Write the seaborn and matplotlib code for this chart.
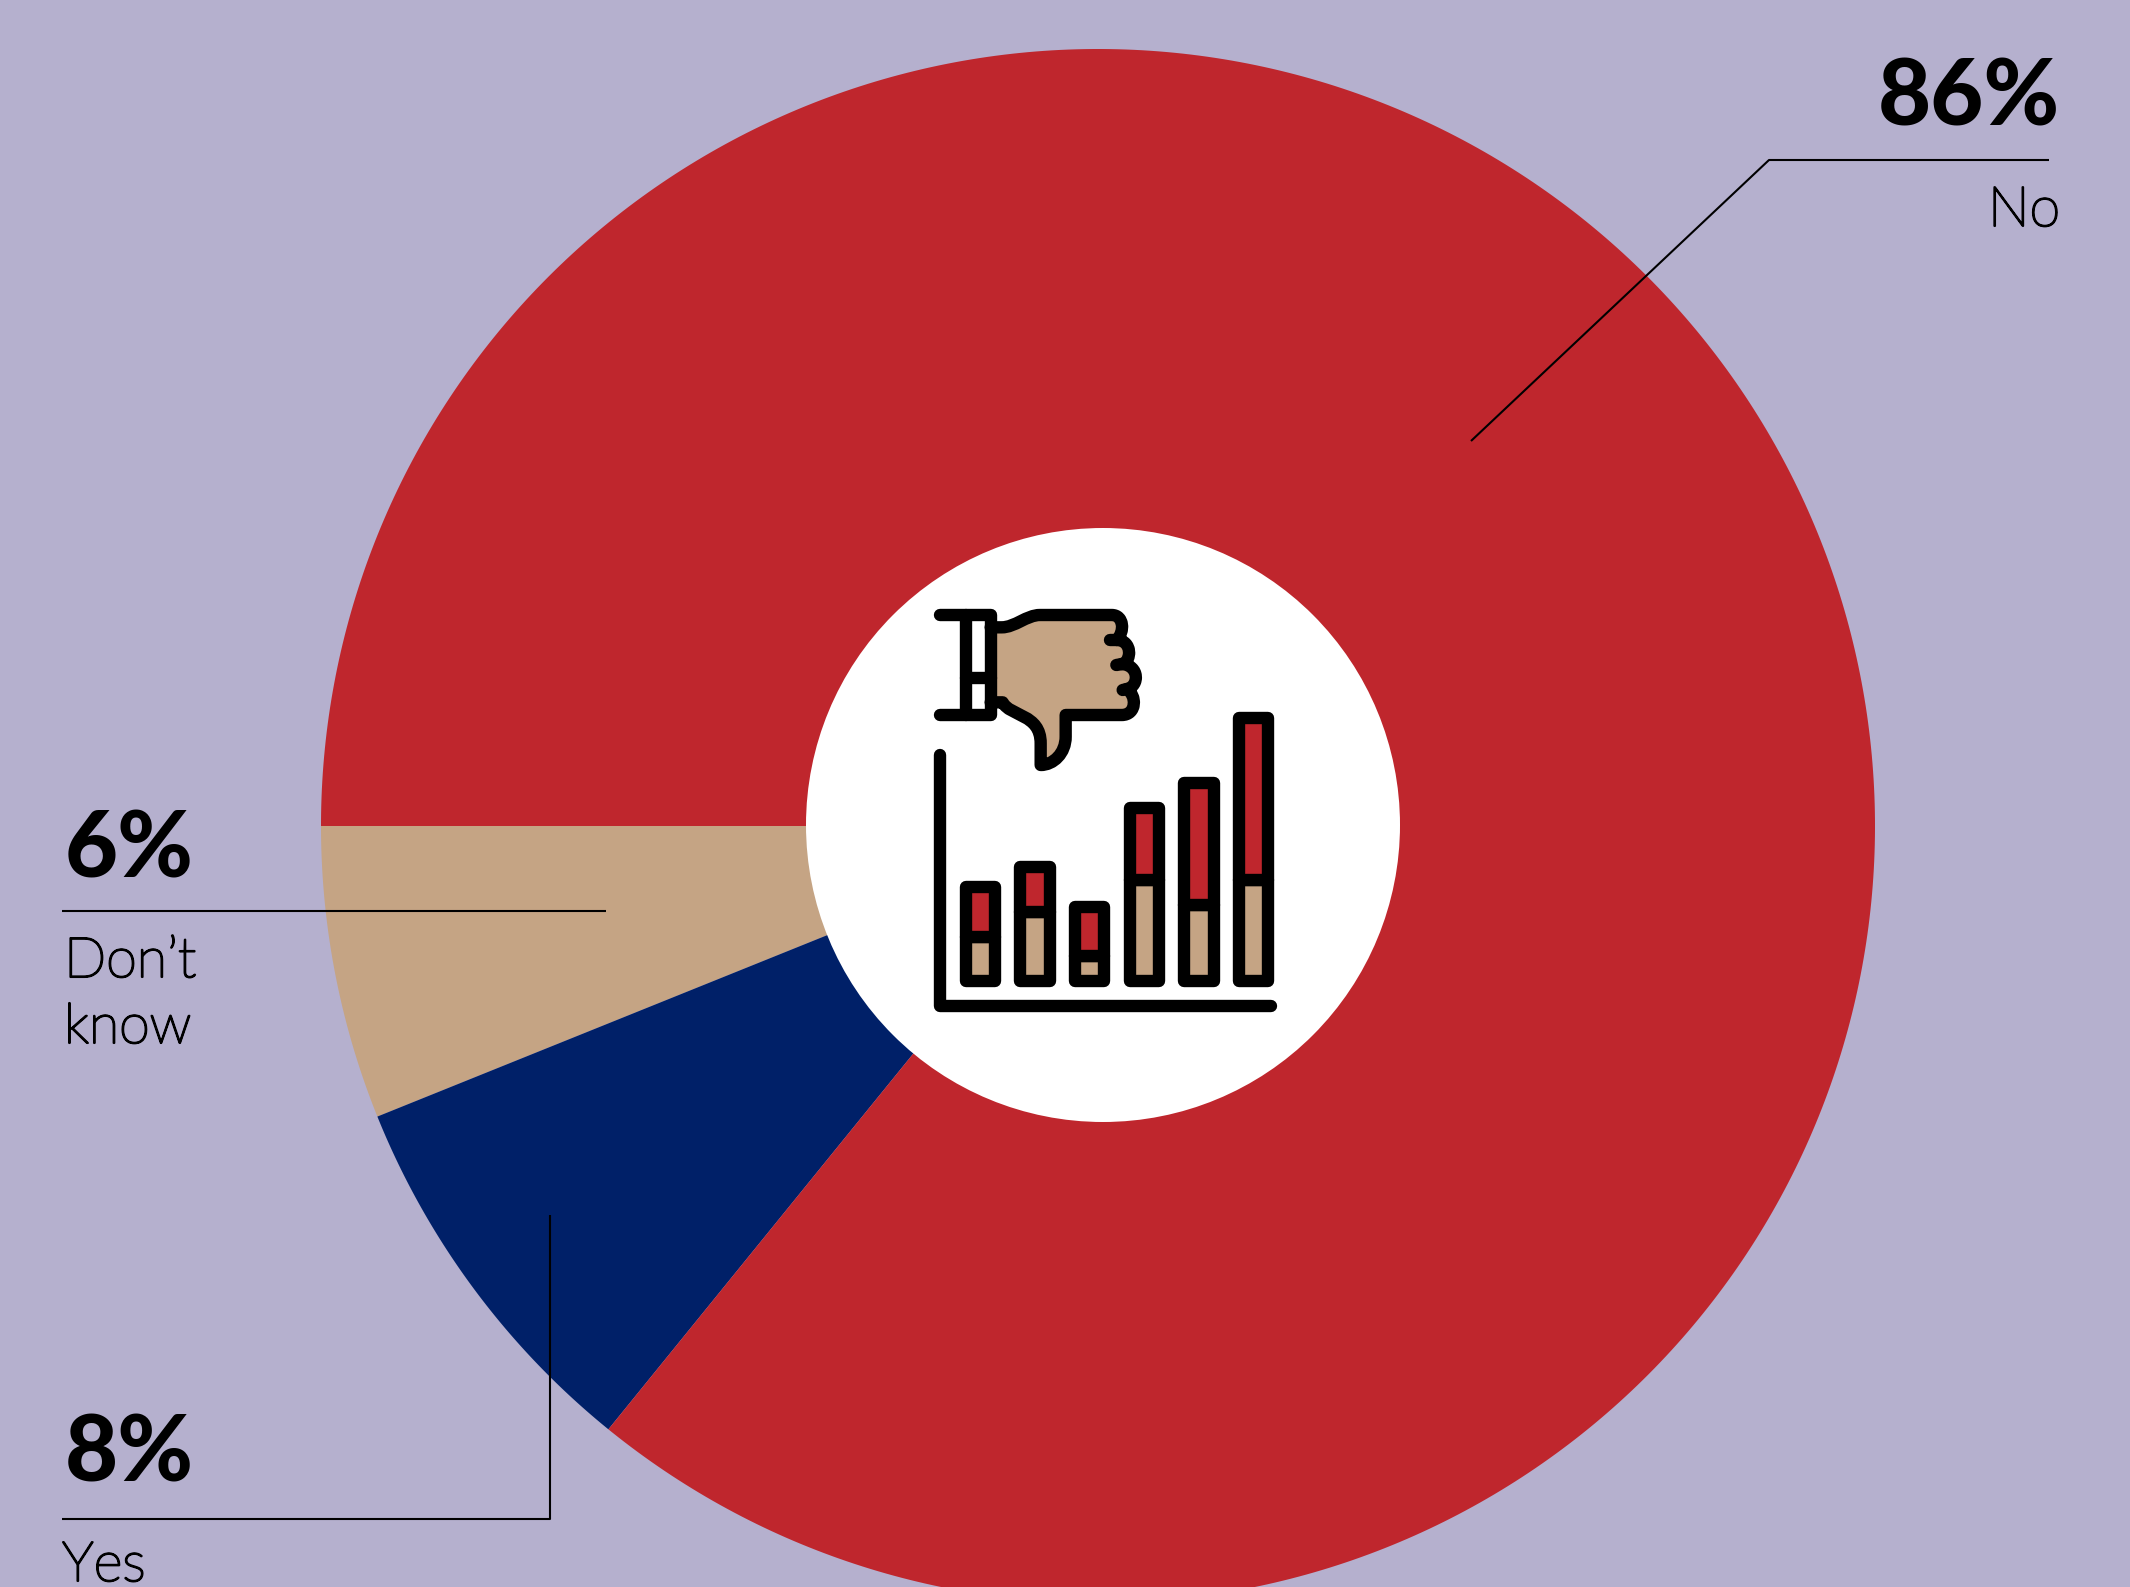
import matplotlib
matplotlib.use('Agg')
import matplotlib.pyplot as plt
from matplotlib.patches import Circle, PathPatch
from matplotlib.path import Path
from matplotlib.transforms import Affine2D
import matplotlib.patheffects as pe
import seaborn as sns

# chart data
labels = ["Don\u2019t\nknow", "Yes", "No"]
pct_labels = ["6%", "8%", "86%"]
# slice sizes as measured on the picture (labels above are the rounded ones)
shares = [6.1, 8.05, 85.85]

# little icon in the middle of the donut: stacked bars
icon_cats = ['a', 'b', 'c', 'd', 'e', 'f']
icon_tan = [132, 207, 75, 301, 226, 301]
icon_red = [150, 133, 145, 216, 367, 487]

bg = '#B5B0CE'
red = '#BF262D'
tan = '#C5A484'
navy = '#002068'

W, H = 2130, 1587
sns.set_theme(style='white')
plt.rcParams['font.family'] = ['Lato', 'DejaVu Sans']

fig = plt.figure(figsize=(W / 100, H / 100), dpi=100, facecolor=bg)
ax = fig.add_axes([0, 0, 1, 1], zorder=1)
ax.set_facecolor(bg)


# everything placed by hand is given in image pixels, y going down
def Y(y):
    return H - y


wedges, _ = ax.pie(shares, colors=[tan, navy, red], startangle=180, counterclock=True,
                   center=(1098, Y(826)), radius=777, wedgeprops=dict(linewidth=0))
# agg flattens such a big arc into visible facets, so flatten it finer first
for w in wedges:
    poly = w.get_path().to_polygons(transform=Affine2D().scale(8), closed_only=True)[0]
    w._path = Path(poly / 8)
ax.set_xlim(0, W)
ax.set_ylim(0, H)
ax.set_aspect('equal')
ax.axis('off')

ax.add_patch(Circle((1103, Y(825)), 297, facecolor='white', edgecolor='none', zorder=3))

# leader lines
line_kw = dict(color='black', lw=1.5, solid_capstyle='butt', zorder=4)
ax.plot([1471, 1769, 2049], [Y(441), Y(160), Y(160)], **line_kw)
ax.plot([62, 606], [Y(911), Y(911)], **line_kw)
ax.plot([62, 550, 550], [Y(1519), Y(1519), Y(1215)], **line_kw)

# labels, the only thin Lato here is hairline so it gets a small outline
big = dict(fontsize=66, fontweight='black', color='black', va='baseline', zorder=5)
small = dict(fontsize=40, fontweight='light', color='black', va='baseline', zorder=5,
             path_effects=[pe.withStroke(linewidth=1.5, foreground='black')])
ax.text(2060, Y(126), pct_labels[2], ha='right', **big)
ax.text(2060, Y(226), labels[2], ha='right', **small)
ax.text(65, Y(878), pct_labels[0], ha='left', **big)
ax.text(64, Y(977), labels[0].split('\n')[0], ha='left', **small)
ax.text(64, Y(1043), labels[0].split('\n')[1], ha='left', **small)
ax.text(65, Y(1482), pct_labels[1], ha='left', **big)
ax.text(62, Y(1581), labels[1], ha='left', **small)


def P(x, y):
    return (900 + x / 3, Y(580 + y / 3))


stroke = 8.9
hand = [
    (Path.MOVETO, (272, 142)), (Path.LINETO, (305, 142)),
    (Path.CURVE4, (345, 142)), (Path.CURVE4, (380, 105)), (Path.CURVE4, (420, 105)),
    (Path.LINETO, (635, 105)),
    (Path.CURVE4, (672, 105)), (Path.CURVE4, (675, 155)), (Path.CURVE4, (650, 180)),
    (Path.CURVE4, (697, 180)), (Path.CURVE4, (697, 245)), (Path.CURVE4, (665, 252)),
    (Path.CURVE4, (719, 255)), (Path.CURVE4, (719, 320)), (Path.CURVE4, (680, 327)),
    (Path.CURVE4, (711, 345)), (Path.CURVE4, (711, 405)), (Path.CURVE4, (665, 405)),
    (Path.LINETO, (497, 405)), (Path.LINETO, (497, 470)),
    (Path.CURVE4, (497, 520)), (Path.CURVE4, (460, 555)), (Path.CURVE4, (422, 555)),
    (Path.LINETO, (422, 490)),
    (Path.CURVE4, (422, 400)), (Path.CURVE4, (330, 410)), (Path.CURVE4, (308, 367)),
    (Path.LINETO, (272, 367)), (Path.CLOSEPOLY, (272, 142)),
]
codes = [c for c, p in hand]
verts = [P(*p) for c, p in hand]
ax.add_patch(PathPatch(Path(verts, codes), facecolor=tan, edgecolor='none', zorder=5))
# outline left open on the cuff side
ax.add_patch(PathPatch(Path(verts[:-1], codes[:-1]), facecolor='none', edgecolor='black', lw=stroke,
                       capstyle='round', joinstyle='round', zorder=6))

# cuff and knuckle stubs
cuff = [[(121, 105), (272, 105), (272, 405), (121, 405)],
        [(197, 105), (197, 405)],
        [(197, 293), (272, 293)],
        [(631, 180), (652, 180)],
        [(649, 255), (667, 252)],
        [(668, 330), (682, 327)]]
for seg in cuff:
    xs, ys = zip(*[P(*p) for p in seg])
    ax.plot(xs, ys, color='black', lw=stroke, solid_capstyle='round', solid_joinstyle='round', zorder=7)

# icon bars with their own axes
left, right = 900 + 121 / 3, 900 + 1112 / 3
top, bottom = 580 + 405 / 3, 580 + 1278 / 3
iax = fig.add_axes([left / W, 1 - bottom / H, (right - left) / W, (bottom - top) / H], zorder=2)
iax.patch.set_alpha(0)
sns.barplot(x=icon_cats, y=icon_tan, color=tan, saturation=1, width=0.537, linewidth=stroke,
            edgecolor='black', ax=iax)
sns.barplot(x=icon_cats, y=icon_red, bottom=icon_tan, color=red, saturation=1, width=0.537,
            linewidth=stroke, edgecolor='black', ax=iax)
for b in iax.patches:
    b.set_joinstyle('round')
    b.set_clip_on(False)
x0, x1 = -120 / 164, (1112 - 241) / 164
iax.set_xlim(x0, x1)
iax.set_ylim(-76, 797)
iax.plot([x0, x0, x1], [677, -76, -76], color='black', lw=stroke, solid_capstyle='round',
         solid_joinstyle='round', clip_on=False)
iax.axis('off')

fig.savefig('out.png', dpi=100, facecolor=bg)
